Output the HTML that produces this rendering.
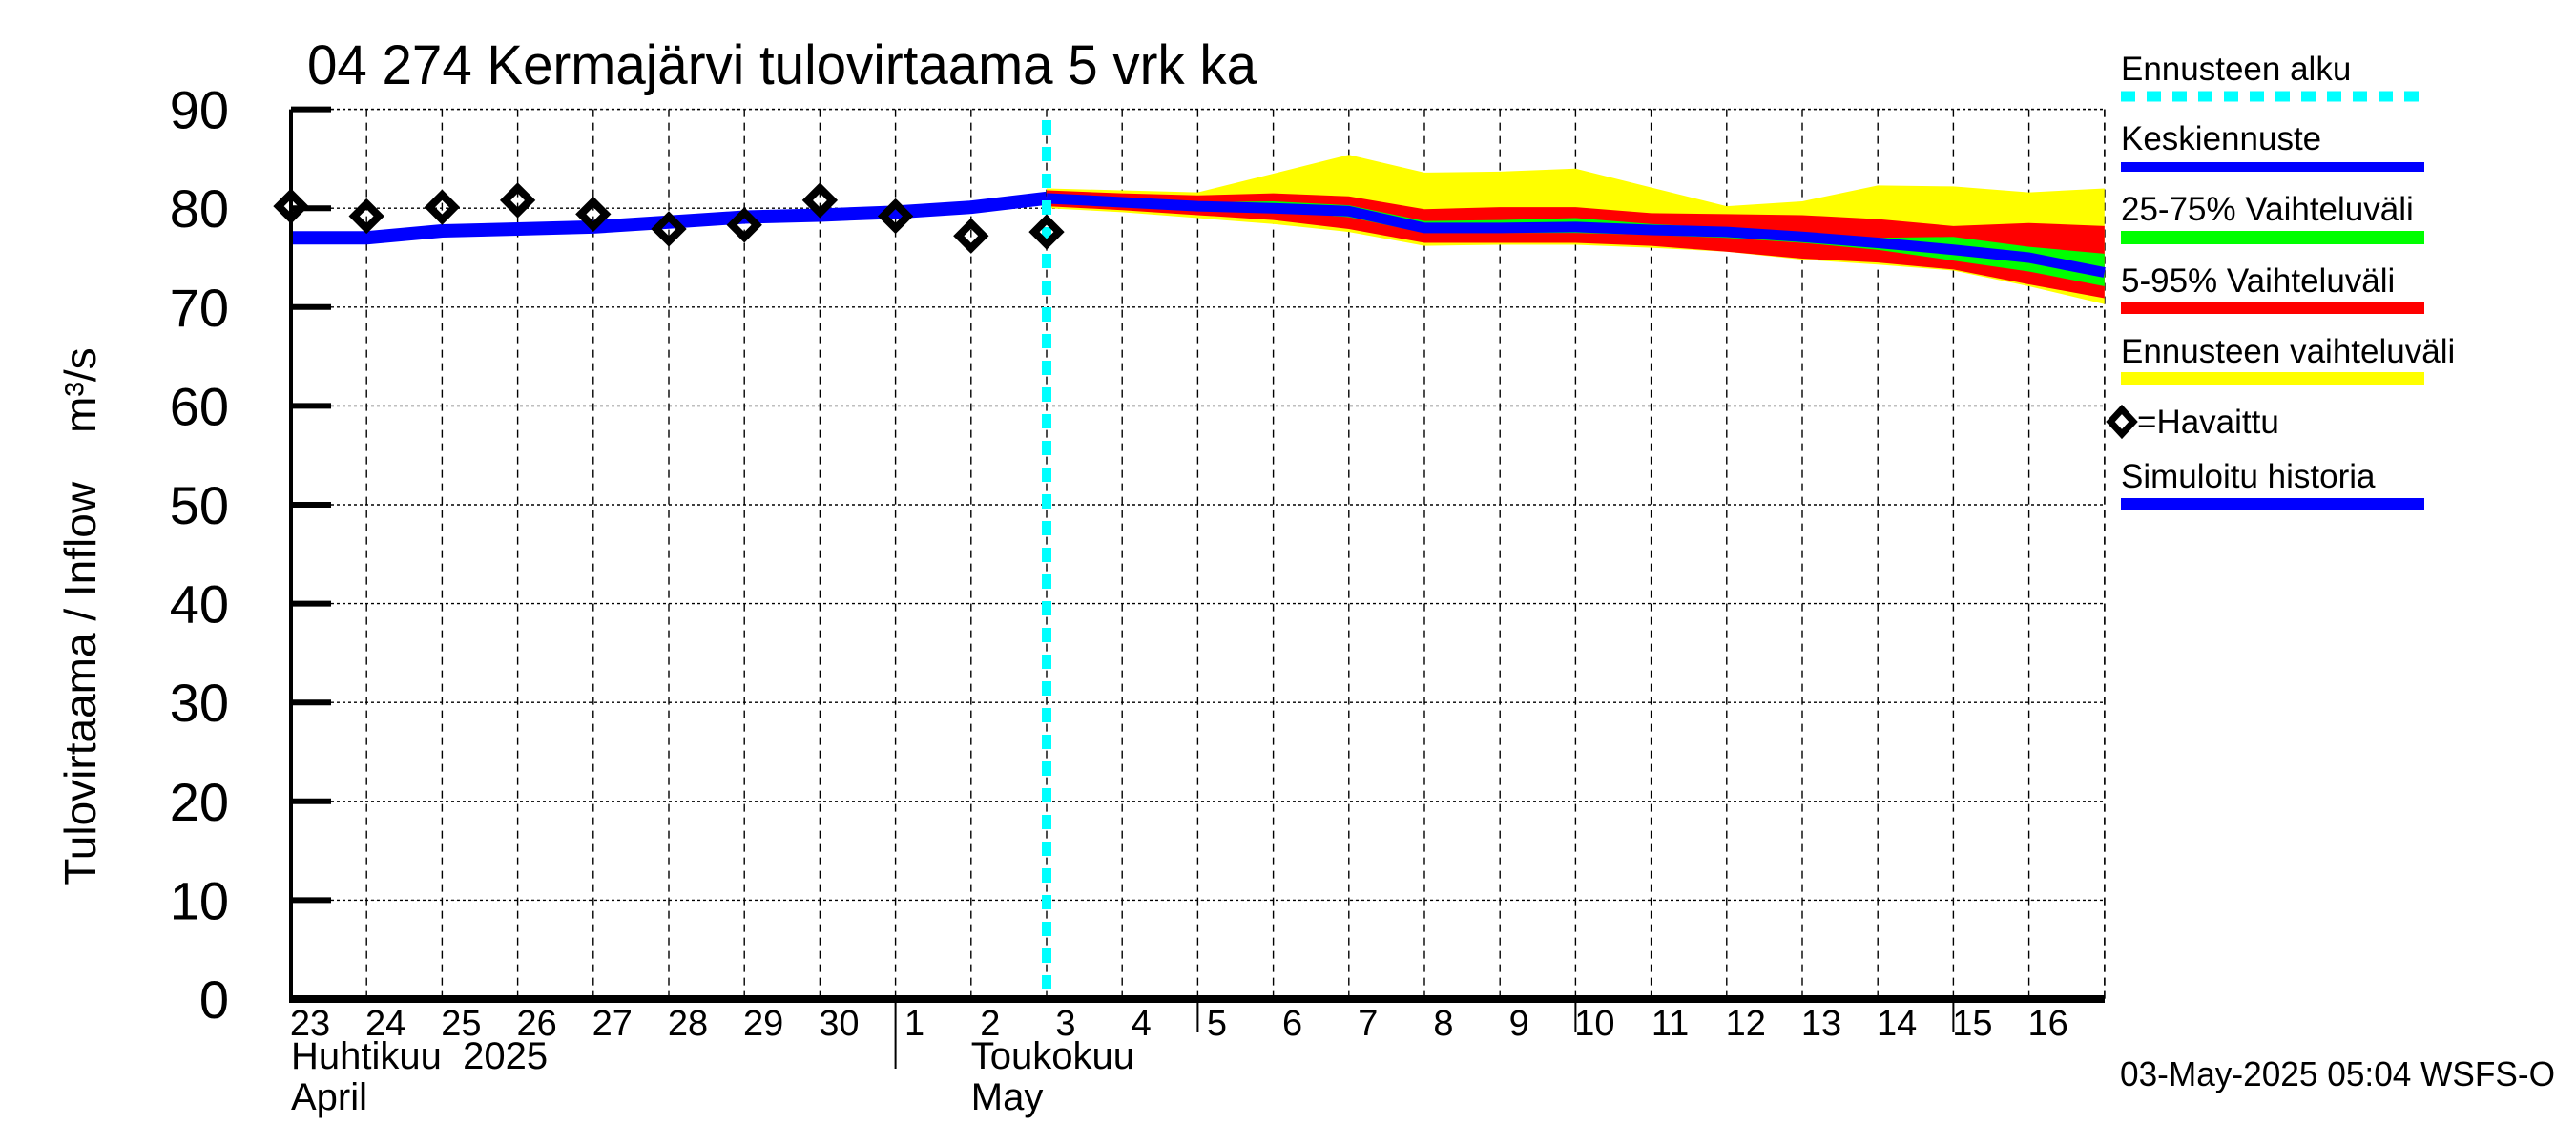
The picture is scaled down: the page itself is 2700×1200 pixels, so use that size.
<!DOCTYPE html>
<html><head><meta charset="utf-8"><style>
html,body{margin:0;padding:0;background:#fff;}
svg{display:block;font-family:"Liberation Sans",sans-serif;}
</style></head><body>
<svg id="chart" width="2700" height="1200" viewBox="0 0 2700 1200" xmlns="http://www.w3.org/2000/svg">
<text x="322" y="88" font-size="58" textLength="995" lengthAdjust="spacingAndGlyphs">04 274 Kermajärvi tulovirtaama 5 vrk ka</text>
<text transform="translate(100,646) rotate(-90)" font-size="46" text-anchor="middle" style="white-space:pre">Tulovirtaama / Inflow&#160;&#160;&#160;&#160;m³/s</text>
<g id="grid"></g>
<g id="bands"></g>
<g id="lines"></g>
<g id="axes"></g>
<g id="legend">
<text x="2223" y="84" font-size="35">Ennusteen alku</text>
<line x1="2223" y1="101" x2="2541" y2="101" stroke="#00ffff" stroke-width="11" stroke-dasharray="15,12"/>
<text x="2223" y="157" font-size="35">Keskiennuste</text>
<rect x="2223" y="170" width="318" height="10" fill="#0000ff"/>
<text x="2223" y="231" font-size="35">25-75% Vaihteluväli</text>
<rect x="2223" y="242" width="318" height="14" fill="#00ff00"/>
<text x="2223" y="306" font-size="35">5-95% Vaihteluväli</text>
<rect x="2223" y="316" width="318" height="13" fill="#ff0000"/>
<text x="2223" y="380" font-size="35">Ennusteen vaihteluväli</text>
<rect x="2223" y="390" width="318" height="13" fill="#ffff00"/>
<path d="M2224,429 L2236,442 L2224,455 L2212,442 Z" fill="none" stroke="#000" stroke-width="7"/>
<text x="2240" y="454" font-size="35">=Havaittu</text>
<text x="2223" y="511" font-size="35">Simuloitu historia</text>
<rect x="2223" y="522" width="318" height="13" fill="#0000ff"/>
</g>
<text x="2222" y="1138" font-size="36" textLength="456" lengthAdjust="spacingAndGlyphs">03-May-2025 05:04 WSFS-O</text>
</svg>
<script>
const dayLabels = ["23","24","25","26","27","28","29","30","1","2","3","4","5","6","7","8","9","10","11","12","13","14","15","16"];
const yTicks = [0,10,20,30,40,50,60,70,80,90];
const obsDays = [0,1,2,3,4,5,6,7,8,9,10];
const obsVals = [80.2,79.2,80.1,80.8,79.4,77.9,78.3,80.8,79.2,77.2,77.6];
const histDays = [0,1,2,3,4,5,6,7,8,9,10];
const histVals = [77.0,77.0,77.7,77.9,78.1,78.6,79.1,79.3,79.6,80.1,81.0];
const fcDays = [10,11,12,13,14,15,16,17,18,19,20,21,22,23,24];
const fcMax = [82.0,81.8,81.6,83.5,85.4,83.6,83.7,84.0,82.1,80.2,80.7,82.3,82.2,81.6,82.0];
const fcMin = [80.0,79.6,79.0,78.4,77.6,76.2,76.3,76.3,76.0,75.6,74.8,74.3,73.7,72.1,70.3];
const p95 = [81.8,81.5,81.3,81.5,81.2,79.9,80.1,80.1,79.5,79.4,79.3,78.9,78.2,78.5,78.2];
const p05 = [80.2,79.8,79.3,78.8,77.9,76.5,76.5,76.5,76.2,75.6,74.9,74.5,73.8,72.3,70.9];
const p75 = [81.1,80.8,80.6,80.7,80.3,78.7,78.8,79.0,78.4,78.0,77.6,77.0,77.1,76.1,75.4];
const p25 = [80.9,80.4,80.0,79.7,79.1,77.5,77.5,77.5,77.3,77.0,76.5,75.8,74.7,73.6,72.1];
const median = [81.0,80.6,80.2,80.0,79.7,78.0,78.0,78.1,77.8,77.6,77.1,76.5,75.8,75.0,73.5];
const forecastStart = 10;

const NS="http://www.w3.org/2000/svg";
const X0=305, DX=79.2, Y0=1047, DY=10.36;
const xs=d=>X0+d*DX, ys=v=>Y0-v*DY;
function mk(tag,attrs,parent){const e=document.createElementNS(NS,tag);for(const k in attrs)e.setAttribute(k,attrs[k]);parent.appendChild(e);return e;}
const grid=document.getElementById('grid'),bands=document.getElementById('bands'),lines=document.getElementById('lines'),axes=document.getElementById('axes');
yTicks.forEach(v=>{
  if(v>0){const l=mk('line',{x1:X0,y1:ys(v),x2:2206,y2:ys(v),stroke:'#000','stroke-width':1.4,'stroke-dasharray':'3,3'},grid);
  
  }
  const t=mk('text',{x:240,y:ys(v)+20,'font-size':56,'text-anchor':'end'},axes);t.textContent=String(v);
  
  
  const tk=mk('line',{x1:X0,y1:ys(v),x2:X0+42,y2:ys(v),stroke:'#000','stroke-width':6},axes);
  
  
});
for(let d=1;d<=24;d++){
  const l=mk('line',{x1:xs(d),y1:ys(90),x2:xs(d),y2:Y0,stroke:'#000','stroke-width':1.4,'stroke-dasharray':'8,6'},grid);
  
  
}
dayLabels.forEach((s,i)=>{
  const t=mk('text',{x:xs(i)+20,y:1085,'font-size':38,'text-anchor':'middle'},axes);t.textContent=s;
  
  
});
[12,17,22].forEach(d=>{const l=mk('line',{x1:xs(d),y1:Y0,x2:xs(d),y2:1082,stroke:'#000','stroke-width':2},axes);
  
  });
{const l=mk('line',{x1:xs(8),y1:Y0,x2:xs(8),y2:1120,stroke:'#000','stroke-width':2},axes);

}
[["Huhtikuu  2025",xs(0),1120],["April",xs(0),1163],["Toukokuu",xs(9),1120],["May",xs(9),1163]].forEach(a=>{
  const t=mk('text',{x:a[1],y:a[2],'font-size':40,style:'white-space:pre'},axes);t.textContent=a[0];
  
  
});
mk('line',{x1:X0,y1:ys(90),x2:2206,y2:ys(90),stroke:'#000','stroke-width':1.4,'stroke-dasharray':'3,3'},grid);
mk('line',{x1:2206,y1:ys(90),x2:2206,y2:Y0,stroke:'#000','stroke-width':1.4,'stroke-dasharray':'8,6'},grid);
{const a=mk('line',{x1:X0,y1:ys(90),x2:X0,y2:Y0+4,stroke:'#000','stroke-width':4},axes);


const b=mk('line',{x1:X0,y1:Y0,x2:2206,y2:Y0,stroke:'#000','stroke-width':8},axes);

}
function band(hi,lo,color,name){
  let d='M'+fcDays.map((x,i)=>xs(x)+','+ys(hi[i])).join(' L');
  d+=' L'+fcDays.map((x,i)=>xs(x)+','+ys(lo[i])).reverse().join(' L')+' Z';
  const p=mk('path',{d:d,fill:color},bands);
  
  
}
band(fcMax,fcMin,'#ffff00','forecast-range-band');
band(p95,p05,'#ff0000','band-5-95');
band(p75,p25,'#00ff00','band-25-75');
function pline(dx,vals,w,name){
  const p=mk('polyline',{points:dx.map((x,i)=>xs(x)+','+ys(vals[i])).join(' '),fill:'none',stroke:'#0000ff','stroke-width':w,'stroke-linejoin':'round'},lines);
  
  
}
pline(fcDays,median,11,'median-forecast-line');
pline(histDays,histVals,14,'simulated-history-line');
{const c=mk('line',{x1:xs(forecastStart),y1:126,x2:xs(forecastStart),y2:Y0,stroke:'#00ffff','stroke-width':10,'stroke-dasharray':'15,13'},lines);

}
obsDays.forEach((d,i)=>{
  const x=xs(d),y=ys(obsVals[i]);
  const p=mk('path',{d:`M${x},${y-13} L${x+13},${y} L${x},${y+13} L${x-13},${y} Z`,fill:'none',stroke:'#000','stroke-width':8},lines);
  
  
});
</script>
</body></html>
